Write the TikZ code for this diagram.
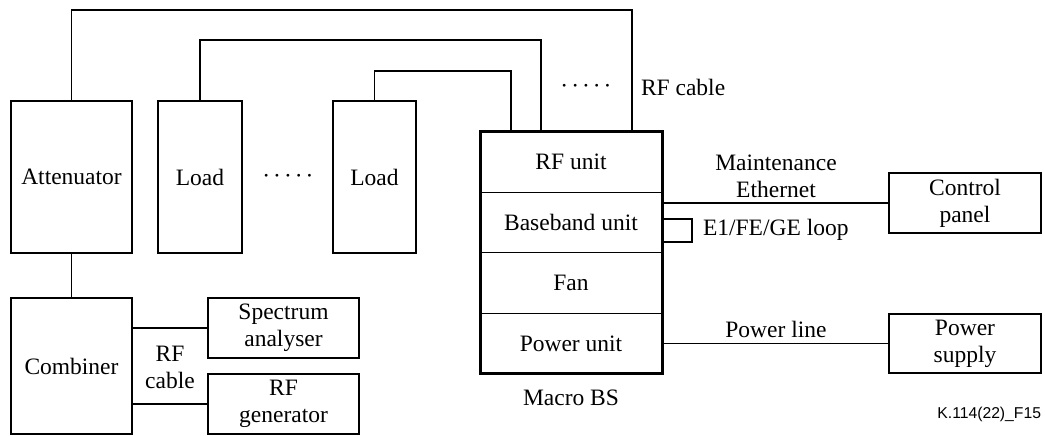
\documentclass[tikz,border=0pt]{standalone}
\usepackage{fontspec}
\setmainfont{Liberation Serif}
\newfontfamily\figsans{Liberation Sans}
\newcommand\dotrow{\textperiodcentered\hspace{3pt}\textperiodcentered\hspace{3pt}\textperiodcentered\hspace{3pt}\textperiodcentered\hspace{3pt}\textperiodcentered}
\begin{document}
\begin{tikzpicture}[x=1pt,y=-1pt,
  every node/.style={font=\fontsize{23.5}{27}\selectfont, inner sep=0pt, outer sep=0pt},
  box/.style={draw, line width=1.2pt, align=center},
  wire/.style={line width=1.2pt},
  unitbox/.style={box, minimum width=182pt, minimum height=60.25pt}]
\useasboundingbox (0,0) rectangle (1045,436);

% test equipment on the left
\node[box, minimum width=121pt, minimum height=152pt] (att) at (71.5,177) {Attenuator};
\node[box, minimum width=84pt, minimum height=152pt] (ld1) at (200,177) {Load};
\node (dots1) at (288,179) {\dotrow};
\node[box, minimum width=83pt, minimum height=152pt] (ld2) at (374.5,177) {Load};
\node[box, minimum width=121pt, minimum height=136pt] (comb) at (71.5,366) {Combiner};
\node[box, minimum width=151pt, minimum height=60pt] (spec) at (283.5,328) {Spectrum\\analyser};
\node[box, minimum width=151pt, minimum height=60pt] (gen) at (283.5,404) {RF\\generator};
\node[align=center] (rfc2) at (170,367) {RF\\cable};

% macro base station
\node[unitbox] (rfu) at (571,162) {RF unit};
\node[unitbox] (bbu) at (571,222.5) {Baseband unit};
\node[unitbox] (fan) at (571,283) {Fan};
\node[unitbox] (pwu) at (571,343.5) {Power unit};
\draw[line width=3pt] (rfu.north west) rectangle (pwu.south east);
\node (mbs) at (571,398) {Macro BS};

% peripheral equipment on the right
\node[box, minimum width=152pt, minimum height=60pt] (cp) at (965,203) {Control\\panel};
\node[box, minimum width=152pt, minimum height=59pt] (ps) at (965,343.5) {Power\\supply};

% connector labels
\node (dots2) at (586,89) {\dotrow};
\node[anchor=west] (rfc1) at (641,87) {RF cable};
\node[align=center] (maint) at (776,176) {Maintenance\\Ethernet};
\node[anchor=west] (loopl) at (703,230) {E1/FE/GE loop};
\node (pwl) at (776,329) {Power line};
\node[anchor=east, font=\figsans\fontsize{15.7}{18}\selectfont] (fig) at (1041,414) {K.114(22)\_F15};

% RF cables
\coordinate (k1) at (632,10);
\coordinate (k2) at (541,40);
\coordinate (k3) at (511,71);
\draw[wire] (att.north) |- (k1) -- (k1 |- rfu.north);
\draw[wire] (ld1.north) |- (k2) -- (k2 |- rfu.north);
\draw[wire] (ld2.north) |- (k3) -- (k3 |- rfu.north);
\draw[wire] (att.south) -- (comb.north);
\draw[wire] (spec.west) -- (spec.west -| comb.east);
\draw[wire] (gen.west) -- (gen.west -| comb.east);

% maintenance, loop and power connections
\draw[wire] (cp.west) -- (cp.west -| bbu.east);
\coordinate (lp1) at (692,219);
\coordinate (lp2) at (692,242);
\draw[wire] (lp1 -| bbu.east) -- (lp1) -- (lp2) -- (lp2 -| bbu.east);
\draw[wire] (ps.west) -- (ps.west -| pwu.east);
\end{tikzpicture}
\end{document}
